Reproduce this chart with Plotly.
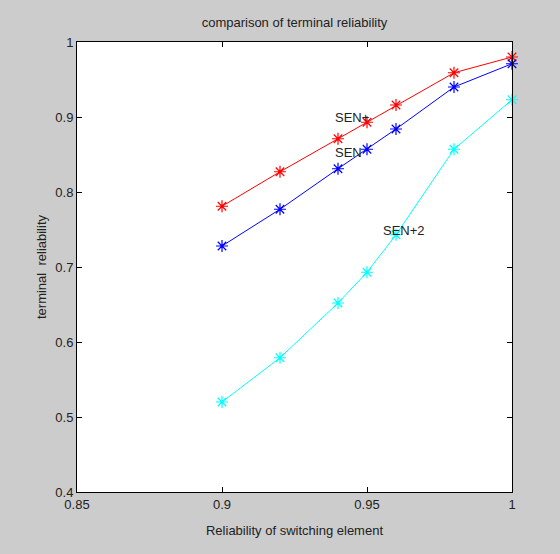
import plotly.graph_objects as go

x_vals = [0.9, 0.92, 0.94, 0.95, 0.96, 0.98, 1.0]
sen_plus = [0.781, 0.827, 0.871, 0.893, 0.916, 0.959, 0.980]
sen = [0.728, 0.777, 0.831, 0.857, 0.884, 0.940, 0.971]
sen_plus2 = [0.520, 0.579, 0.652, 0.693, 0.743, 0.857, 0.923]

x_ticks = [0.85, 0.9, 0.95, 1.0]
x_tick_labels = ["0.85", "0.9", "0.95", "1"]
y_ticks = [0.4, 0.5, 0.6, 0.7, 0.8, 0.9, 1.0]
y_tick_labels = ["0.4", "0.5", "0.6", "0.7", "0.8", "0.9", "1"]

labels = ["SEN+", "SEN", "SEN+2"]
label_x = [0.9383, 0.9383, 0.9548]
label_y = [0.899, 0.853, 0.749]

font = "Liberation Sans, Arial, sans-serif"

fig = go.Figure()
for ys, col in [(sen_plus, "#ff0000"), (sen, "#0000ff"), (sen_plus2, "#00ffff")]:
    fig.add_trace(go.Scatter(
        x=x_vals, y=ys, mode="lines+markers",
        line=dict(color=col, width=1),
        marker=dict(symbol="asterisk-open", size=10, color=col,
                    line=dict(color=col, width=1.2)),
        cliponaxis=False, showlegend=False,
    ))

for t, lx, ly in zip(labels, label_x, label_y):
    fig.add_annotation(x=lx, y=ly, text=t, showarrow=False,
                       xanchor="left", yanchor="middle",
                       font=dict(family=font, size=13, color="#222222"))

fig.update_layout(
    width=560, height=554,
    paper_bgcolor="#cccccc", plot_bgcolor="#ffffff",
    margin=dict(l=77, r=48, t=42, b=62),
    title=dict(text="comparison of terminal reliability", x=0.5, xref="paper",
               y=1 - 22 / 554, yanchor="middle",
               font=dict(family=font, size=13, color="#222222")),
    xaxis=dict(range=[0.85, 1.0], tickvals=x_ticks, ticktext=x_tick_labels,
               ticks="inside", ticklen=5, tickcolor="#000000",
               showline=True, linecolor="#000000", linewidth=1, mirror="ticks",
               showgrid=False, zeroline=False,
               tickfont=dict(family=font, size=13, color="#222222"),
               title=dict(text="Reliability of switching element", standoff=15,
                          font=dict(family=font, size=13, color="#222222"))),
    yaxis=dict(range=[0.4, 1.0], tickvals=y_ticks, ticktext=y_tick_labels,
               ticks="inside", ticklen=5, tickcolor="#000000",
               showline=True, linecolor="#000000", linewidth=1, mirror="ticks",
               showgrid=False, zeroline=False,
               tickfont=dict(family=font, size=13, color="#222222"),
               title=dict(text="terminal  reliability", standoff=5,
                          font=dict(family=font, size=13, color="#222222"))),
)

fig.write_html("out.html", config={"displayModeBar": False},
               post_script="document.body.style.margin='0';")
